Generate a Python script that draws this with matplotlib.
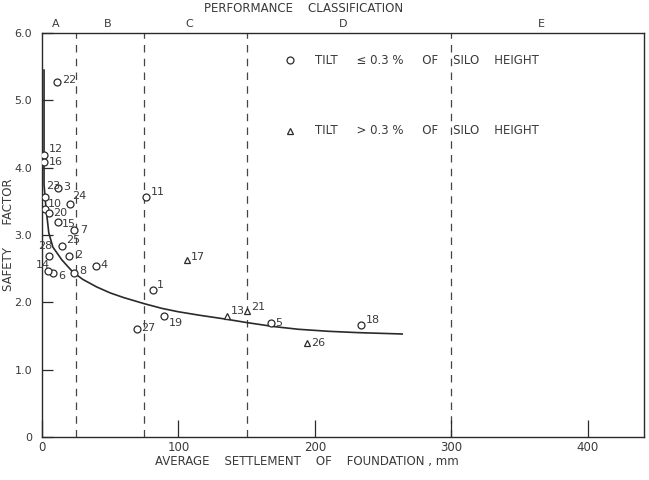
import matplotlib
matplotlib.use("Agg")
import matplotlib.pyplot as plt

# silo case histories: settlement (mm) vs safety factor
ids_low = ["1", "2", "3", "4", "5", "6", "7", "8", "10", "11", "12", "14", "15",
           "16", "18", "19", "20", "22", "23", "24", "25", "27", "28"]
s_low = [81.2, 19.9, 11.5, 39.9, 167.7, 8.2, 23.6, 23.6, 2.2, 76.4, 1.7, 4.6, 11.5,
         1.7, 234.0, 89.8, 5.3, 10.7, 2.2, 20.4, 14.4, 69.6, 5.1]
sf_low = [2.19, 2.69, 3.70, 2.54, 1.70, 2.43, 3.08, 2.44, 3.38, 3.56, 4.19, 2.47, 3.20,
          4.08, 1.66, 1.79, 3.33, 5.28, 3.56, 3.46, 2.83, 1.60, 2.69]

ids_high = ["13", "17", "21", "26"]
s_high = [135.5, 106.0, 150.6, 194.4]
sf_high = [1.79, 2.63, 1.87, 1.39]

# hand-drawn trend curve
curve_s = [1.5, 1.5, 2.5, 3.5, 5, 8, 14.6, 22.6, 30, 40, 50, 60, 75, 88, 100, 115, 135,
           150, 170, 188, 210, 232, 264]
curve_sf = [5.45, 3.75, 3.5, 3.3, 3.03, 2.82, 2.63, 2.45, 2.34, 2.23, 2.14, 2.07, 1.98,
            1.91, 1.86, 1.81, 1.75, 1.70, 1.64, 1.60, 1.57, 1.55, 1.53]

class_bounds = [25, 75, 150, 300]
class_names = ["A", "B", "C", "D", "E"]
class_mid = [10, 48, 108, 221, 366]

x_ticks = [0, 100, 200, 300, 400]
y_ticks = [0, 1, 2, 3, 4, 5, 6]
y_ticklabels = ["0", "1.0", "2.0", "3.0", "4.0", "5.0", "6.0"]

# label offsets in points (dx, dy)
off_low = {"1": (3, 3), "2": (4, 1), "3": (4, 1), "4": (3, 1), "5": (3, 0), "6": (4, -2),
           "7": (4, 0), "8": (4, 1), "10": (2, 4), "11": (3, 4), "12": (3, 4),
           "14": (-4, 4), "15": (3, -2), "16": (3, 0), "18": (3, 4), "19": (3, -5),
           "20": (3, 0), "22": (4, 1), "23": (1, 8), "24": (2, 6), "25": (3, 5),
           "27": (3, 1), "28": (-3, 7)}
off_high = {"13": (3, 4), "17": (3, 2), "21": (3, 3), "26": (3, 0)}

ink = "#2a2a2a"
txt = "#3a3a3a"
plt.rcParams["font.family"] = ["DejaVu Sans"]

fig = plt.figure(figsize=(6.49, 4.8), dpi=100)
ax = fig.add_axes([0.0647, 0.0896, 0.927, 0.8415])

ax.plot(curve_s, curve_sf, color=ink, lw=1.2, zorder=2)
ax.plot(s_low, sf_low, "o", ms=5, mfc="white", mec=ink, mew=0.9, zorder=3)
ax.plot(s_high, sf_high, "^", ms=4.5, mfc="white", mec=ink, mew=0.9, zorder=3)

for i, name in enumerate(ids_low):
    dx, dy = off_low[name]
    ax.annotate(name, (s_low[i], sf_low[i]), xytext=(dx, dy), textcoords="offset points",
                ha="left" if dx >= 0 else "center", va="center", fontsize=8, color=txt)
for i, name in enumerate(ids_high):
    dx, dy = off_high[name]
    ax.annotate(name, (s_high[i], sf_high[i]), xytext=(dx, dy), textcoords="offset points",
                ha="left", va="center", fontsize=8, color=txt)

for b in class_bounds:
    ax.axvline(b, color="#444444", lw=0.9, ls=(0, (6, 5)), zorder=1)

for m, name in zip(class_mid, class_names):
    ax.text(m, 6.06, name, ha="center", va="bottom", fontsize=8, color=txt)
ax.text(192, 6.27, "PERFORMANCE    CLASSIFICATION", ha="center", va="bottom",
        fontsize=8.5, color=txt, clip_on=False)

# legend drawn as in the original
ax.plot([182], [5.6], "o", ms=5, mfc="white", mec=ink, mew=0.9)
ax.text(200, 5.6, "TILT     \u2264 0.3 %     OF    SILO    HEIGHT", va="center", fontsize=8.5,
        color=txt)
ax.plot([182], [4.55], "^", ms=4, mfc="white", mec=ink, mew=0.9)
ax.text(200, 4.55, "TILT     > 0.3 %     OF    SILO    HEIGHT", va="center", fontsize=8.5,
        color=txt)

ax.set_xlim(0, 441)
ax.set_ylim(0, 6)
ax.set_xticks(x_ticks)
ax.set_yticks(y_ticks)
ax.set_yticklabels(y_ticklabels)
ax.tick_params(axis="x", direction="in", length=12, width=0.9, color=ink, labelsize=8.5,
               labelcolor=txt, pad=3)
ax.tick_params(axis="y", direction="in", length=8, width=0.9, color=ink, labelsize=8,
               labelcolor=txt, pad=7)
for sp in ax.spines.values():
    sp.set_color(ink)
    sp.set_linewidth(1.0)

ax.set_xlabel("AVERAGE    SETTLEMENT    OF    FOUNDATION , mm", fontsize=8.5, color=txt)
ax.xaxis.set_label_coords(0.44, -0.045)
ax.set_ylabel("SAFETY      FACTOR", fontsize=8.5, color=txt)
ax.yaxis.set_label_coords(-0.045, 0.5)

fig.savefig("out.png", dpi=100)
